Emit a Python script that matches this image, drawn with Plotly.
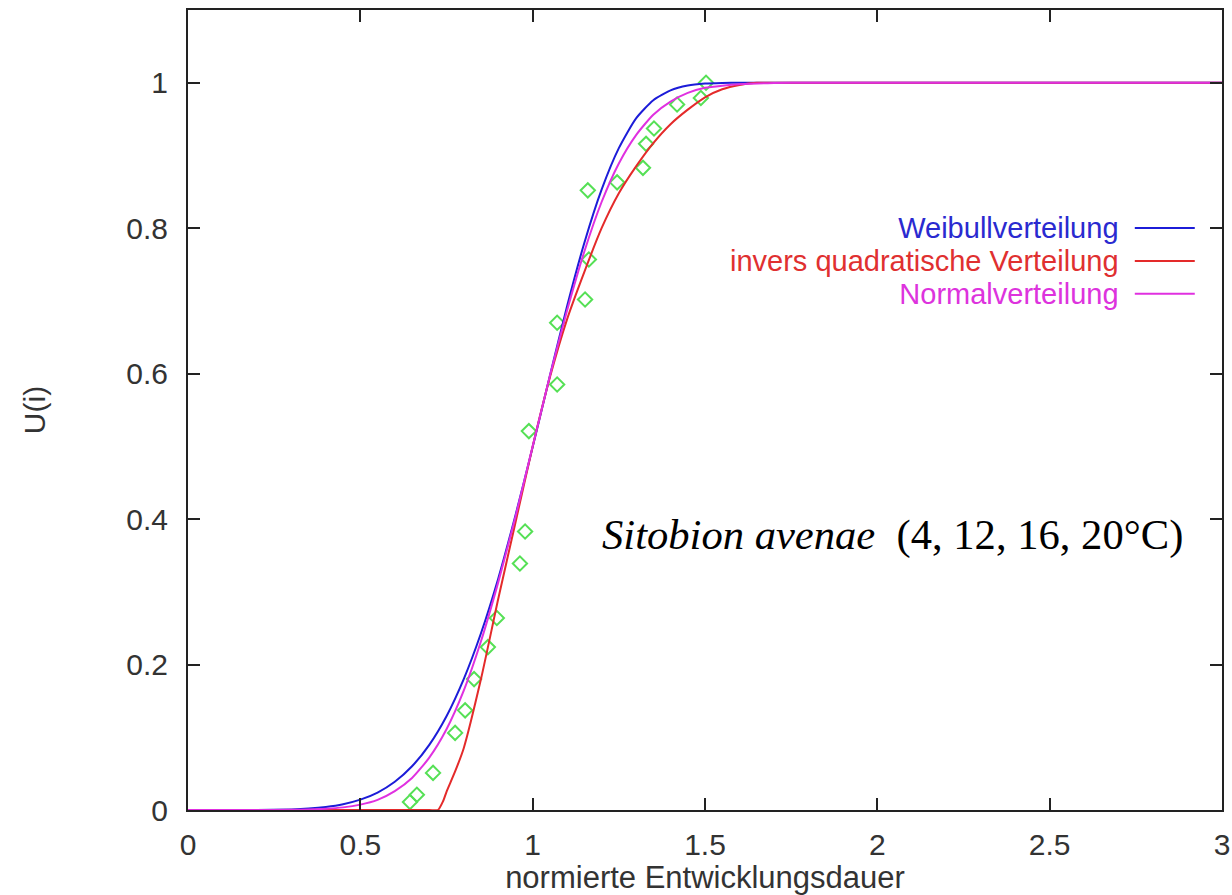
import plotly.graph_objects as go

# Measured developmental stages (normalised duration vs. cumulative fraction)
obs_x = [0.644, 0.664, 0.711, 0.775, 0.804, 0.830, 0.870, 0.896, 0.963, 0.978,
         0.989, 1.071, 1.071, 1.152, 1.160, 1.163, 1.245, 1.320, 1.329, 1.352,
         1.419, 1.488, 1.503]
obs_y = [0.011, 0.021, 0.051, 0.106, 0.137, 0.180, 0.224, 0.264, 0.339, 0.383,
         0.521, 0.585, 0.670, 0.702, 0.852, 0.757, 0.863, 0.883, 0.916, 0.937,
         0.970, 0.979, 1.000]

# Fitted distribution curves, tabulated
weib_x = [0, 0.2, 0.3, 0.35, 0.4, 0.45, 0.5, 0.55, 0.6, 0.65, 0.7, 0.75, 0.8,
          0.85, 0.9, 0.95, 1.0, 1.05, 1.1, 1.15, 1.2, 1.25, 1.3, 1.35, 1.4,
          1.45, 1.5, 1.55, 1.6, 1.7, 2.0, 2.5, 3.0]
weib_y = [0, 0.0001, 0.0008, 0.0019, 0.0041, 0.0079, 0.0142, 0.024, 0.0388,
          0.0601, 0.0896, 0.129, 0.180, 0.243, 0.318, 0.405, 0.499, 0.597,
          0.693, 0.780, 0.853, 0.910, 0.951, 0.976, 0.9895, 0.9961, 0.9988,
          0.9997, 1.0, 1.0, 1.0, 1.0, 1.0]

invq_x = [0, 0.5, 0.7, 0.725, 0.74, 0.75, 0.775, 0.8, 0.85, 0.9, 0.95, 1.0,
          1.05, 1.1, 1.15, 1.2, 1.25, 1.3, 1.35, 1.4, 1.45, 1.5, 1.55, 1.6,
          1.65, 1.7, 2.0, 2.5, 3.0]
invq_y = [0, 0, 0, 0, 0.012, 0.025, 0.053, 0.085, 0.18, 0.29, 0.395, 0.50,
          0.595, 0.675, 0.74, 0.80, 0.848, 0.885, 0.917, 0.943, 0.963, 0.98,
          0.991, 0.997, 1.0, 1.0, 1.0, 1.0, 1.0]

norm_x = [0, 0.2, 0.3, 0.35, 0.4, 0.45, 0.5, 0.55, 0.6, 0.65, 0.7, 0.75, 0.8,
          0.85, 0.9, 0.95, 1.0, 1.05, 1.1, 1.15, 1.2, 1.25, 1.3, 1.35, 1.4,
          1.45, 1.5, 1.55, 1.6, 1.7, 1.8, 2.0, 2.5, 3.0]
norm_y = [0, 0.00005, 0.0003, 0.0008, 0.0017, 0.0036, 0.0074, 0.014, 0.026,
          0.044, 0.072, 0.111, 0.164, 0.232, 0.313, 0.403, 0.500, 0.597,
          0.687, 0.768, 0.836, 0.889, 0.928, 0.956, 0.974, 0.986, 0.993,
          0.996, 0.998, 0.9997, 1.0, 1.0, 1.0, 1.0]

series_names = ["Weibullverteilung", "invers quadratische Verteilung", "Normalverteilung"]
line_colors = ["#1c1cd8", "#e42a2a", "#e030e0"]
text_colors = ["#2a2ad0", "#e03030", "#dd33dd"]

x_ticks = [0, 0.5, 1, 1.5, 2, 2.5, 3]
y_ticks = [0, 0.2, 0.4, 0.6, 0.8, 1]

fig = go.Figure()

fig.add_trace(go.Scatter(
    x=obs_x, y=obs_y, mode="markers", showlegend=False,
    marker=dict(symbol="diamond-open", size=11, color="#55e055",
                line=dict(width=2, color="#55e055")),
))

curves = [(weib_x, weib_y), (invq_x, invq_y), (norm_x, norm_y)]
for (cx, cy), name, col in zip(curves, series_names, line_colors):
    fig.add_trace(go.Scatter(
        x=cx, y=cy, mode="lines", name=name, showlegend=False,
        line=dict(color=col, width=2, shape="spline", smoothing=0.6),
    ))

# gnuplot-style key: right-aligned labels (one text block, fixed line pitch)
# followed by a short line sample per entry
key_text_x = 2.705
key_line_x0, key_line_x1 = 2.747, 2.921
key_rows = [0.8003, 0.755, 0.7097]
key_label_px = 29
key_pitch_px = 33
key_lines = "<br>".join(
    f"<span style='color:{tc};font-size:{key_label_px}px'>{nm}</span>"
    for nm, tc in zip(series_names, text_colors)
)
fig.add_annotation(x=key_text_x, y=key_rows[1], xref="x", yref="y", text=key_lines,
                   showarrow=False, xanchor="right", yanchor="middle", align="right",
                   borderpad=0,
                   font=dict(family="Liberation Sans, Arial", size=key_pitch_px / 1.3,
                             color=text_colors[0]))
for col, ky in zip(line_colors, key_rows):
    fig.add_shape(type="line", xref="x", yref="y", x0=key_line_x0, x1=key_line_x1,
                  y0=ky, y1=ky, line=dict(color=col, width=2))

fig.add_annotation(x=1.195, y=0.378, xref="x", yref="y",
                   text="<i>Sitobion avenae</i>\u00a0\u00a0(4, 12, 16, 20°C)",
                   showarrow=False, xanchor="left", yanchor="middle",
                   font=dict(family="Liberation Serif, Times New Roman", size=42.6,
                             color="#000000"))

axis_common = dict(
    showgrid=False, zeroline=False, showline=True, linecolor="#222222",
    linewidth=2, mirror="allticks", ticks="inside", ticklen=12, tickwidth=2,
    tickcolor="#222222", automargin=False,
    tickfont=dict(family="Liberation Sans, Arial", size=30, color="#333333"),
)

fig.update_layout(
    width=1232, height=895,
    margin=dict(l=188, r=10, t=10, b=85),
    paper_bgcolor="white", plot_bgcolor="white",
    xaxis=dict(range=[0, 3], tickvals=x_ticks, ticktext=[f"{v:g}" for v in x_ticks],
               ticklabelstandoff=7,
               title=dict(text="normierte Entwicklungsdauer", standoff=6,
                          font=dict(family="Liberation Sans, Arial", size=31,
                                    color="#333333")),
               **axis_common),
    yaxis=dict(range=[0, 1.1], tickvals=y_ticks, ticktext=[f"{v:g}" for v in y_ticks],
               ticklabelstandoff=12,
               title=dict(text="U(i)", standoff=72,
                          font=dict(family="Liberation Sans, Arial", size=30,
                                    color="#333333")),
               **axis_common),
)

fig.write_html("out.html")
